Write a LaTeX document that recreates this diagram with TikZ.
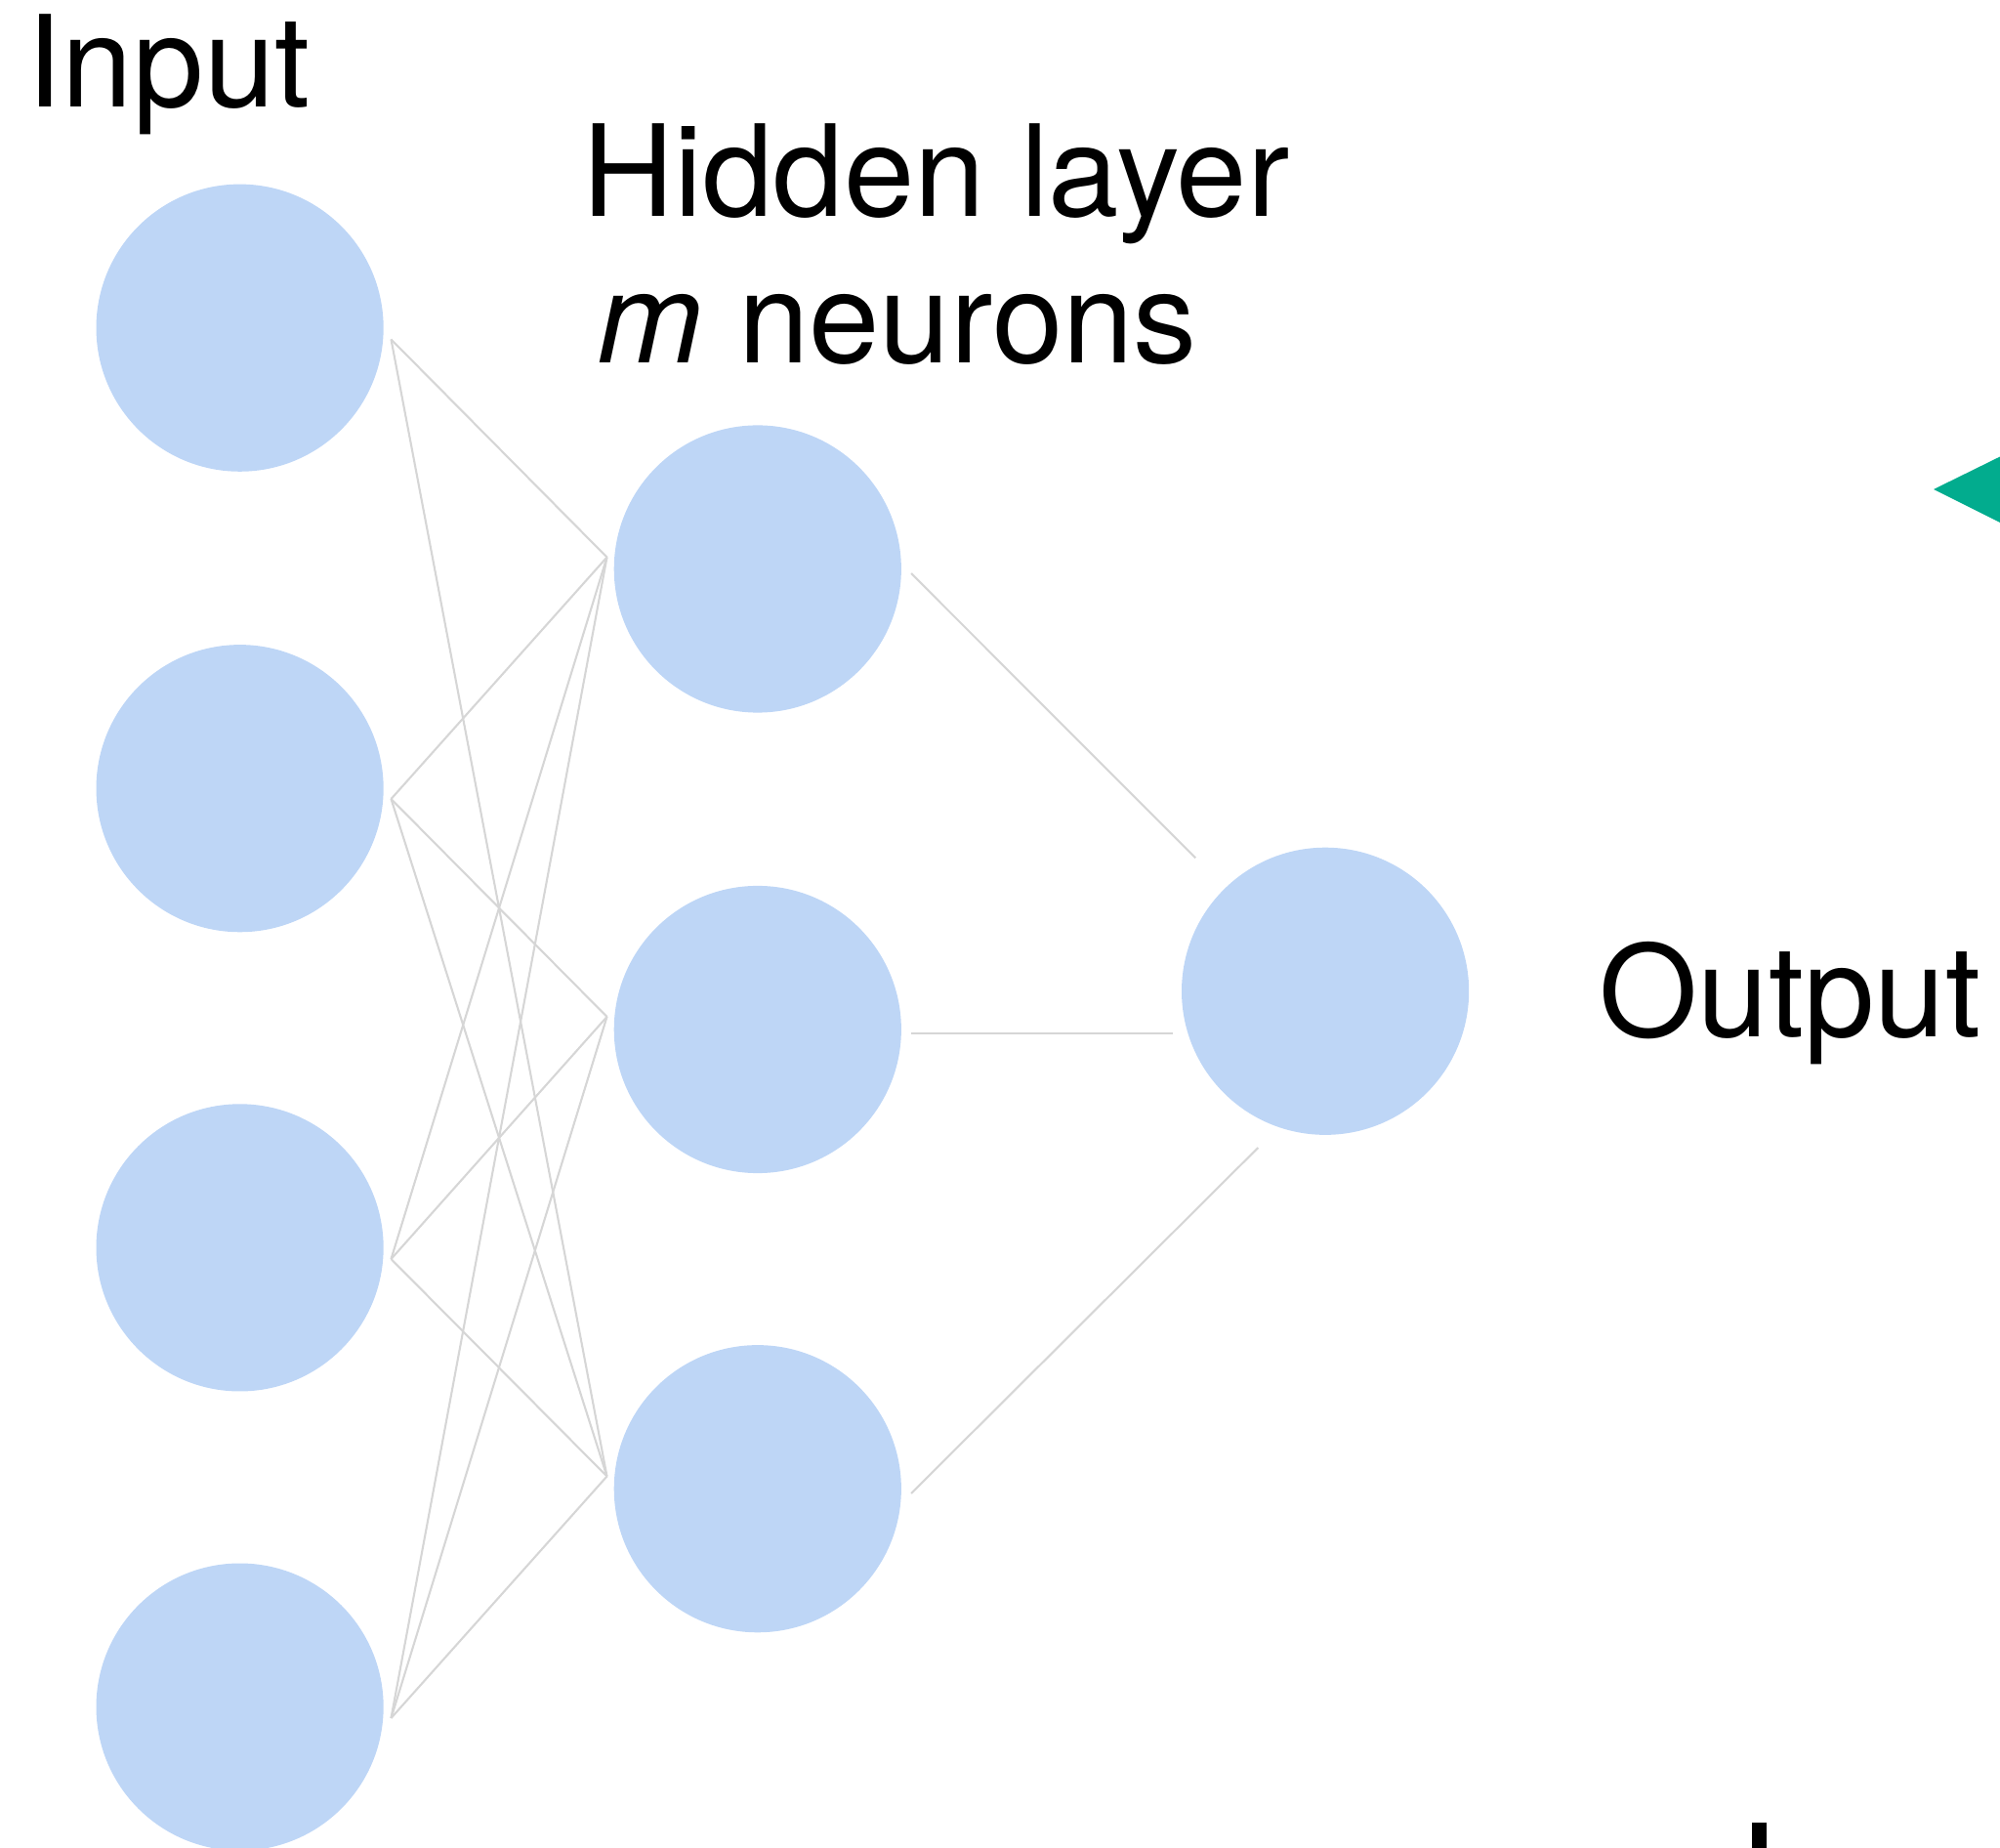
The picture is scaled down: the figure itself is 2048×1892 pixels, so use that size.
\documentclass[tikz,border=0pt]{standalone}
\usepackage{fontspec}
\setmainfont{TeX Gyre Heros}
\usetikzlibrary{positioning}
\definecolor{neuronblue}{RGB}{190,214,246}
\definecolor{linkgray}{RGB}{214,214,214}
\definecolor{markgreen}{RGB}{2,172,142}
\tikzset{neuron/.style={circle,fill=neuronblue,draw=none,minimum size=29.4mm,inner sep=0pt},
         link/.style={draw=linkgray,line width=0.6pt},
         layer label/.style={rectangle,draw=none,fill=none,inner sep=0pt,anchor=base west,
                             font=\fontsize{37}{41}\selectfont},
}

\begin{document}
\begin{tikzpicture}[x=0.01cm,y=-0.01cm]

\useasboundingbox (0,0) rectangle (2048,1892);
\clip (0,0) rectangle (2048,1892);

% neurons
\node[neuron] (i1) at (245.6,335.7) {};
\node[neuron] (i2) at (245.6,807.2) {};
\node[neuron] (i3) at (245.6,1277.4) {};
\node[neuron] (i4) at (245.6,1747.6) {};
\node[neuron] (h1) at (775.8,582.5) {};
\node[neuron] (h2) at (775.8,1054.0) {};
\node[neuron] (h3) at (775.8,1524.2) {};
\node[neuron] (o1) at (1357.1,1014.8) {};

% ends of the links
\coordinate (i1out) at (400.5,347.5);
\coordinate (i2out) at (400.5,818);
\coordinate (i3out) at (400.5,1289);
\coordinate (i4out) at (400.5,1759);
\coordinate (h1in) at (621.5,570.5);
\coordinate (h2in) at (621.5,1041);
\coordinate (h3in) at (621.5,1511.5);
\coordinate (h1out) at (933,587);
\coordinate (h2out) at (933,1058);
\coordinate (h3out) at (933,1529);
\coordinate (o1in1) at (1224.3,878.4);
\coordinate (o1in2) at (1200.7,1058);
\coordinate (o1in3) at (1288.3,1175);

\draw[link] (i1out) -- (h1in);
\draw[link] (i1out) -- (h3in);
\draw[link] (i2out) -- (h1in);
\draw[link] (i2out) -- (h2in);
\draw[link] (i2out) -- (h3in);
\draw[link] (i3out) -- (h1in);
\draw[link] (i3out) -- (h2in);
\draw[link] (i3out) -- (h3in);
\draw[link] (i4out) -- (h1in);
\draw[link] (i4out) -- (h2in);
\draw[link] (i4out) -- (h3in);
\draw[link] (h1out) -- (o1in1);
\draw[link] (h2out) -- (o1in2);
\draw[link] (h3out) -- (o1in3);

% labels
\node[layer label] (inlabel) at (27,110) {Input};
\node[layer label] (hidlabel) at (596,221.7) {Hidden layer};
\node[layer label] (mlabel) at (611,371.7) {\textit{m} neurons};
\node[layer label] (outlabel) at (1637,1062) {Output};

% cut-off shapes at the edge
\fill[markgreen] (1980,501) -- (2110,437) -- (2110,566) -- cycle;
\fill[black] (1794,1866) rectangle (1809,1900);

\end{tikzpicture}
\end{document}
